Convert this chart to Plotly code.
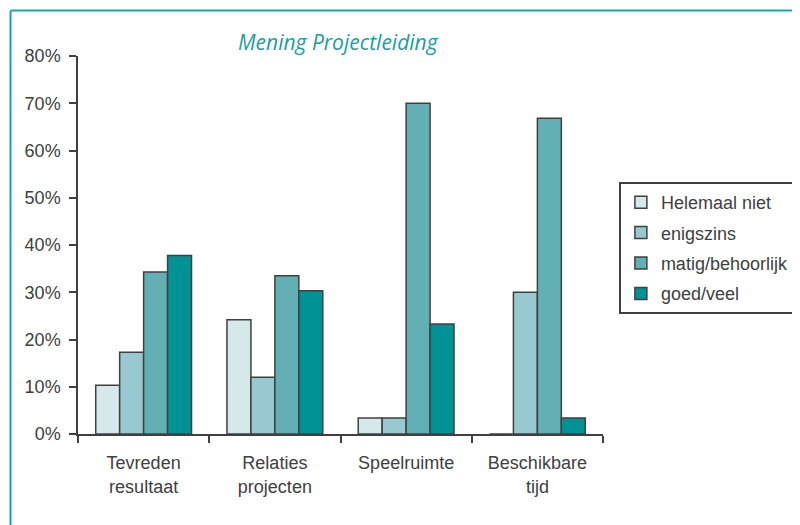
import plotly.graph_objects as go

categories = ["Tevreden<br>resultaat", "Relaties<br>projecten", "Speelruimte", "Beschikbare<br>tijd"]
series_names = ["Helemaal niet", "enigszins", "matig/behoorlijk", "goed/veel"]
helemaal_niet = [10.3, 24.2, 3.4, 0.0]
enigszins = [17.3, 12.0, 3.4, 30.0]
matig_behoorlijk = [34.3, 33.5, 70.0, 66.8]
goed_veel = [37.8, 30.3, 23.3, 3.4]
colors = ["#d5e8ea", "#98c9d0", "#62afb4", "#009294"]
y_ticks = [0, 10, 20, 30, 40, 50, 60, 70, 80]
y_ticklabels = ["0%", "10%", "20%", "30%", "40%", "50%", "60%", "70%", "80%"]

fig = go.Figure()
for i, (name, vals) in enumerate(zip(series_names, [helemaal_niet, enigszins, matig_behoorlijk, goed_veel])):
    fig.add_trace(go.Bar(
        x=categories, y=vals, name=name, legendgroup=name,
        marker=dict(color=colors[i], line=dict(color="#404040", width=1.5)),
    ))

OFF = 8  # page body offset
L, T = 78 - OFF, 56 - OFF
pw, ph = 529, 378
R = 800 - L - pw
B = 525 - T - ph

def px(x):
    return (x - OFF - L) / pw

def py(y):
    return (T + ph - (y - OFF)) / ph

fig.update_layout(
    width=800, height=525,
    margin=dict(l=L, r=R, t=T, b=B, pad=0),
    paper_bgcolor="white", plot_bgcolor="white",
    barmode="group", bargap=0.27, bargroupgap=0,
    font=dict(family="Liberation Sans, Arial, sans-serif", size=18, color="#404040"),
    showlegend=True,
    legend=dict(
        x=px(623), y=py(182), xanchor="left", yanchor="top",
        bordercolor="#404040", borderwidth=2, bgcolor="white",
        font=dict(size=18, color="#404040"), tracegroupgap=4,
        itemwidth=30,
    ),
    xaxis=dict(
        showline=True, linecolor="#404040", linewidth=1.5,
        ticks="outside", tickson="boundaries", ticklen=7, tickcolor="#404040", tickwidth=1.5,
        tickfont=dict(size=18, color="#404040"), showgrid=False, ticklabelstandoff=12,
    ),
    yaxis=dict(
        range=[0, 80], tickvals=y_ticks, ticktext=y_ticklabels,
        showline=True, linecolor="#404040", linewidth=1.5,
        ticks="outside", ticklen=7, tickcolor="#404040", tickwidth=1.5,
        tickfont=dict(size=18, color="#404040"), showgrid=False, zeroline=False,
        ticklabelstandoff=5,
    ),
    annotations=[dict(
        text="<i>Mening Projectleiding</i>", xref="paper", yref="paper",
        x=px(340), y=py(42), xanchor="center", yanchor="middle",
        showarrow=False, font=dict(family="Open Sans, sans-serif", size=21, color="#1a9e9e"),
    )],
    shapes=[
        dict(type="line", xref="paper", yref="paper",
             x0=px(10), x1=px(10), y0=py(540), y1=py(10.5),
             line=dict(color="#1aa5a5", width=2)),
        dict(type="line", xref="paper", yref="paper",
             x0=px(10), x1=px(820), y0=py(10.5), y1=py(10.5),
             line=dict(color="#1aa5a5", width=2)),
    ],
)

fig.write_html("out.html")
